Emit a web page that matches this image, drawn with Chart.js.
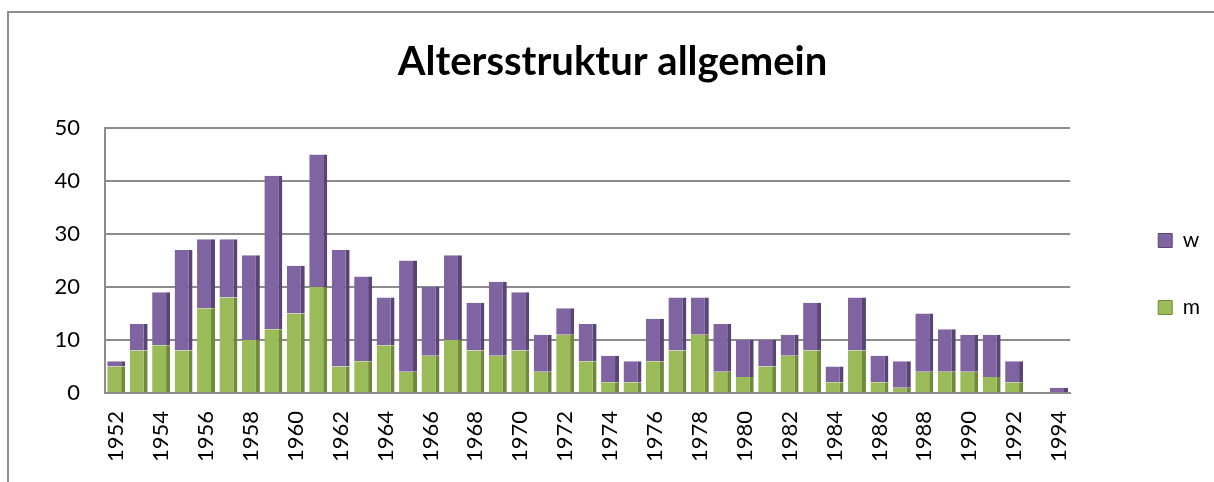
<!DOCTYPE html>
<html>
<head>
<meta charset="utf-8">
<script src="https://cdn.jsdelivr.net/npm/chart.js@4.4.0/dist/chart.umd.min.js"></script>
<style>
  html, body { margin: 0; padding: 0; background: #fff; overflow: hidden; }
  #rahmen { position: absolute; left: 7px; top: 11px; width: 1300px; height: 600px; border: 2px solid #8c8c8c; box-sizing: border-box; }
  #wrap { position: absolute; left: 0; top: 0; width: 1214px; height: 482px; }
</style>
</head>
<body>
<div id="rahmen"></div>
<div id="wrap"><canvas id="grafico" width="1214" height="482"></canvas></div>
<script>
var jahre = ['1952','1953','1954','1955','1956','1957','1958','1959','1960','1961',
  '1962','1963','1964','1965','1966','1967','1968','1969','1970','1971',
  '1972','1973','1974','1975','1976','1977','1978','1979','1980','1981',
  '1982','1983','1984','1985','1986','1987','1988','1989','1990','1991',
  '1992','1993','1994'];
var maennlich = [5,8,9,8,16,18,10,12,15,20, 5,6,9,4,7,10,8,7,8,4, 11,6,2,2,6,8,11,4,3,5, 7,8,2,8,2,1,4,4,4,3, 2,0,0];
var weiblich = [1,5,10,19,13,11,16,29,9,25, 22,16,9,21,13,16,9,14,11,7, 5,7,5,4,8,10,7,9,7,5, 4,9,3,10,5,5,11,8,7,8, 4,0,1];
var yTicks = [0, 10, 20, 30, 40, 50];

var schrift = "Lato, 'Open Sans', sans-serif";

// Legende etwas nach rechts/unten schieben (wie im Excel-Original)
var legendeVerschieben = {
  id: 'legendeVerschieben',
  afterInit: function(chart) {
    var legende = chart.legend;
    var fitAlt = legende.fit;
    legende.fit = function() { fitAlt.call(this); this.width += 42; };
  },
  afterLayout: function(chart) {
    var l = chart.legend;
    l.left += 42; l.right += 42;
    l.top += 38; l.bottom += 38;
  }
};

// Grafik erstellen
var ctx = document.getElementById('grafico');
var myChart = new Chart(ctx, {
  type: 'bar',
  data: {
    labels: jahre,
    datasets: [{
      label: 'm',
      data: maennlich,
      backgroundColor: '#9bbb59',
      borderColor: '#6f8a3a',
      borderWidth: { right: 4, top: 0, left: 0, bottom: 0 },
      borderSkipped: false,
      barPercentage: 0.8,
      categoryPercentage: 1.0
    }, {
      label: 'w',
      data: weiblich,
      backgroundColor: '#8064a2',
      borderColor: '#5a4475',
      borderWidth: { right: 4, top: 0, left: 0, bottom: 0 },
      borderSkipped: false,
      barPercentage: 0.8,
      categoryPercentage: 1.0
    }]
  },
  plugins: [legendeVerschieben],
  options: {
    responsive: false,
    animation: false,
    layout: { padding: { left: 15, right: 4, top: 0, bottom: 10 } },
    plugins: {
      title: {
        display: true,
        text: 'Altersstruktur allgemein',
        color: '#000',
        font: { family: schrift, size: 40, weight: 'bold' },
        padding: { top: 38, bottom: 42 }
      },
      legend: {
        position: 'right',
        reverse: true,
        labels: {
          color: '#000',
          boxWidth: 14,
          boxHeight: 14,
          padding: 46,
          font: { family: schrift, size: 21 }
        }
      },
      tooltip: { enabled: false }
    },
    scales: {
      x: {
        stacked: true,
        grid: { display: false },
        border: { color: '#8c8c8c', width: 2 },
        ticks: {
          color: '#000',
          autoSkip: false,
          minRotation: 90,
          maxRotation: 90,
          padding: 10,
          font: { family: schrift, size: 22 },
          callback: function(v, i) { return i % 2 === 0 ? jahre[i] : ''; }
        }
      },
      y: {
        stacked: true,
        min: 0,
        max: 50,
        afterBuildTicks: function(axis) { axis.ticks = yTicks.map(function(v) { return { value: v }; }); },
        afterFit: function(axis) { axis.width = 90; },
        grid: { color: '#8c8c8c', lineWidth: 2, drawTicks: false },
        border: { color: '#8c8c8c', width: 2 },
        ticks: {
          color: '#000',
          padding: 25,
          font: { family: schrift, size: 22 }
        }
      }
    }
  }
});
</script>
</body>
</html>
